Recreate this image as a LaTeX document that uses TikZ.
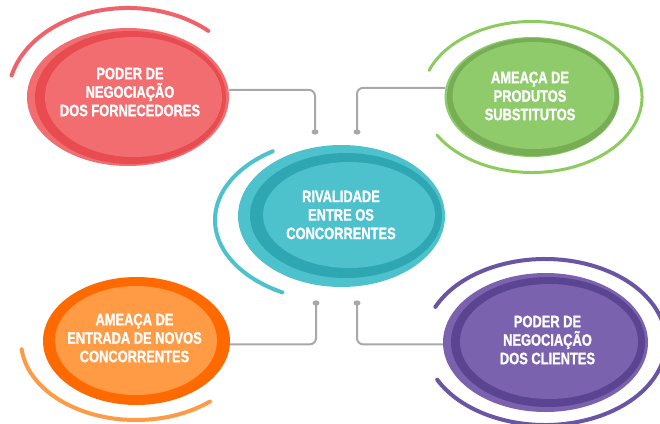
\documentclass[tikz,border=0pt]{standalone}
\usepackage{fontspec}
\newfontfamily\cond[FakeStretch=0.78,FakeBold=1.2]{Liberation Sans}
\usetikzlibrary{shapes.geometric}
\definecolor{redL}{HTML}{F26D70}
\definecolor{redD}{HTML}{E84B50}
\definecolor{redA}{HTML}{F0626A}
\definecolor{grnL}{HTML}{8FCB6B}
\definecolor{grnD}{HTML}{77AD55}
\definecolor{grnA}{HTML}{8CCB5E}
\definecolor{tealL}{HTML}{4DC1CC}
\definecolor{tealD}{HTML}{2EA7B2}
\definecolor{purL}{HTML}{7A62AE}
\definecolor{purD}{HTML}{5B4592}
\definecolor{purA}{HTML}{6A55A5}
\definecolor{oraD}{HTML}{FF6A00}
\definecolor{oraL}{HTML}{FF9A45}
\definecolor{connC}{HTML}{A8A8A8}
\begin{document}
\begin{tikzpicture}[x=1pt,y=-1pt,
  outerell/.style={ellipse, inner sep=0pt, draw=none},
  lbl/.style={text=white, align=center, inner sep=0pt,
    font=\cond\bfseries\fontsize{16.5}{18.5}\selectfont},
  conn/.style={draw=connC, line width=2pt, rounded corners=6pt},
  arcline/.style={line width=4pt, line cap=round},
  dotmark/.style={fill=connC}]
\useasboundingbox (0,0) rectangle (660,423);
\clip (0,0) rectangle (660,423);

% ---- arcs
\draw[arcline, redA] (128,97) ++(194:120 and 89) arc[start angle=194, end angle=312, x radius=120, y radius=89];
\draw[arcline, grnA, line width=3pt] (532,97) ++(200.6:110 and 75.5) arc[start angle=200.6, end angle=509.8, x radius=110, y radius=75.5];
\draw[arcline, tealL] (342,220) ++(237:127 and 82) arc[start angle=237, end angle=118, x radius=127, y radius=82];
\draw[arcline, oraL] (136,341) ++(174:115 and 79) arc[start angle=174, end angle=50, x radius=115, y radius=79];
\draw[arcline, purA] (545,342) ++(205:121 and 83) arc[start angle=205, end angle=513, x radius=121, y radius=83];

% ---- red
\node[outerell, fill=redL, minimum width=202pt, minimum height=138pt] (redO) at (128,97) {};
\fill[redD] (130.5,97.5) ellipse [x radius=95.5, y radius=66.5];
\fill[redL] (133.5,97) ellipse [x radius=88.5, y radius=60];
\node[lbl] (redT) at (130,92) {PODER DE\\NEGOCIAÇÃO\\DOS FORNECEDORES};

% ---- green
\node[outerell, fill=grnL, minimum width=175pt, minimum height=120pt] (grnO) at (532,97) {};
\fill[grnD] (533,97) ellipse [x radius=86, y radius=59];
\fill[grnL] (533.5,95.5) ellipse [x radius=81, y radius=53.5];
\node[lbl] (grnT) at (530,96) {AMEAÇA DE\\PRODUTOS\\SUBSTITUTOS};

% ---- teal
\node[outerell, fill=tealL, minimum width=207pt, minimum height=142pt] (tealO) at (341.5,216) {};
\fill[tealD] (346,215.5) ellipse [x radius=96, y radius=62.5];
\fill[tealL] (349,215) ellipse [x radius=86, y radius=53];
\node[lbl] (tealT) at (341,215) {RIVALIDADE\\ENTRE OS\\CONCORRENTES};

% ---- orange
\node[outerell, fill=oraD, minimum width=187pt, minimum height=128pt] (oraO) at (136.5,341) {};
\fill[oraL] (136,340.5) ellipse [x radius=81, y radius=54.5];
\node[lbl] (oraT) at (134.5,338) {AMEAÇA DE\\ENTRADA DE NOVOS\\CONCORRENTES};

% ---- purple
\node[outerell, fill=purL, minimum width=205pt, minimum height=139pt] (purO) at (545.5,342.5) {};
\fill[purD] (548,342) ellipse [x radius=97, y radius=65];
\fill[purL] (549,341.5) ellipse [x radius=89, y radius=57.5];
\node[lbl] (purT) at (547.5,340) {PODER DE\\NEGOCIAÇÃO\\DOS CLIENTES};

% ---- connectors
\coordinate (dRed) at (315,132);
\coordinate (dGrn) at (357,132);
\coordinate (dOra) at (316,303);
\coordinate (dPur) at (357,303);
\draw[conn] (redO.4.6) -| (dRed);
\draw[conn] (grnO.174.7) -| (dGrn);
\draw[conn] (oraO.-2.5) -| (dOra);
\draw[conn] (purO.181.4) -| (dPur);
\foreach \d in {dRed,dGrn,dOra,dPur}
  \fill[dotmark] (\d) ellipse [x radius=3.5, y radius=2.7];
\end{tikzpicture}
\end{document}
